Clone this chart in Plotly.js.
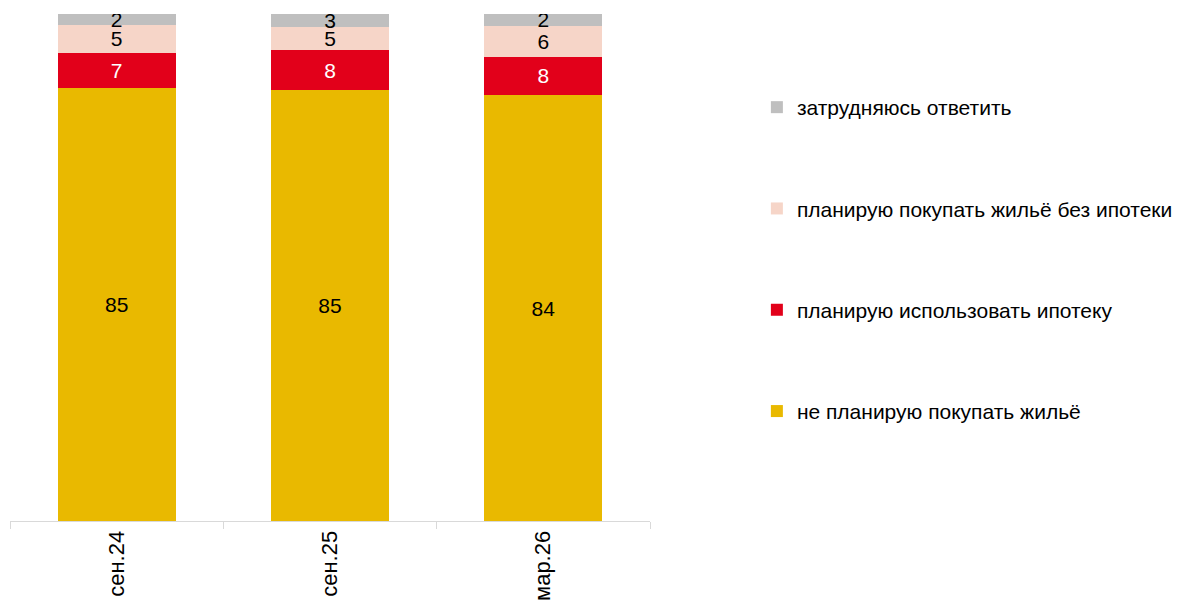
<!DOCTYPE html>
<html>
<head>
<meta charset="utf-8">
<script src="https://cdn.plot.ly/plotly-3.0.1.min.js"></script>
<style>html,body{margin:0;padding:0;background:#fff;}#chart{width:1183px;height:601px;}</style>
</head>
<body>
<div id="chart"></div>
<script>
const categories = ["сен.24", "сен.25", "мар.26"];
const notPlanning = [85.4, 85.0, 84.0];
const mortgage = [7.0, 7.9, 7.6];
const noMortgage = [5.4, 4.5, 6.1];
const hardToSay = [2.2, 2.6, 2.3];

const seriesNames = [
  "не планирую покупать жильё",
  "планирую использовать ипотеку",
  "планирую покупать жильё без ипотеки",
  "затрудняюсь ответить"
];
const seriesValues = [notPlanning, mortgage, noMortgage, hardToSay];
const seriesColors = ["#E9B900", "#E2001A", "#F6D5C8", "#BFBFBF"];
const textColors = ["#000000", "#FFFFFF", "#000000", "#000000"];
const legendRanks = [4, 3, 2, 1];

const FONT = "Arial, 'Liberation Sans', sans-serif";
const FS = 21;

const traces = seriesValues.map((vals, i) => ({
  type: "bar",
  name: seriesNames[i],
  x: categories,
  y: vals,
  marker: {color: seriesColors[i], line: {width: 0}},
  text: vals.map(v => v.toFixed(0)),
  texttemplate: "%{text}",
  textposition: "inside",
  textangle: 0,
  insidetextanchor: "middle",
  constraintext: "none",
  textfont: {family: FONT, size: FS, color: textColors[i]},
  legendgroup: "g" + i,
  legendrank: legendRanks[i],
  hoverinfo: "name+y"
}));

const layout = {
  width: 1183,
  height: 601,
  margin: {l: 10, r: 533, t: 14, b: 80, autoexpand: false},
  barmode: "stack",
  bargap: 0.447,
  paper_bgcolor: "#fff",
  plot_bgcolor: "#fff",
  font: {family: FONT, size: FS, color: "#000"},
  uniformtext: {mode: "show", minsize: FS},
  xaxis: {
    type: "category",
    tickangle: -90,
    ticks: "outside",
    tickson: "boundaries",
    ticklen: 7,
    tickcolor: "#D9D9D9",
    showline: true,
    linecolor: "#D9D9D9",
    linewidth: 1,
    showgrid: false,
    tickfont: {family: FONT, size: 22, color: "#000"},
    fixedrange: true
  },
  yaxis: {
    range: [0, 100],
    visible: false,
    showgrid: false,
    zeroline: false,
    fixedrange: true
  },
  legend: {
    x: 1.167, xanchor: "left",
    y: 0.856, yanchor: "top",
    traceorder: "grouped",
    tracegroupgap: 71,
    font: {family: FONT, size: 21, color: "#000"},
    bgcolor: "rgba(0,0,0,0)"
  },
  showlegend: true
};

Plotly.newPlot("chart", traces, layout, {displayModeBar: false, staticPlot: true});
</script>
</body>
</html>
